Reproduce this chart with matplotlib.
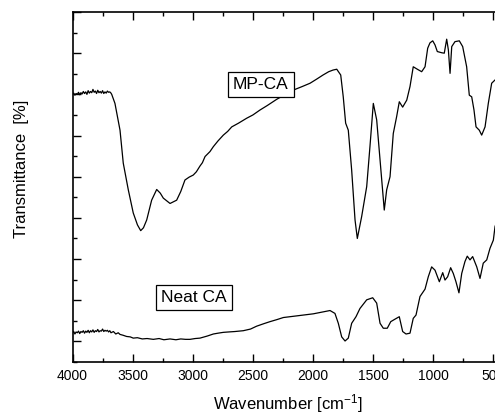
import matplotlib
matplotlib.use("Agg")
import matplotlib.pyplot as plt
from matplotlib.ticker import MultipleLocator

plt.rcParams['font.family'] = ['Liberation Sans', 'DejaVu Sans']
plt.rcParams['mathtext.fontset'] = 'custom'
plt.rcParams['mathtext.rm'] = 'Liberation Sans'
plt.rcParams['mathtext.it'] = 'Liberation Sans:italic'
plt.rcParams['mathtext.bf'] = 'Liberation Sans:bold'

# MP-CA spectrum (wavenumber, transmittance)
mpca_wn = [4000, 3990, 3980, 3970, 3960, 3950, 3940, 3930, 3920, 3910, 3900, 3890,
           3880, 3870, 3860, 3850, 3840, 3830, 3820, 3810, 3800, 3790, 3780, 3770,
           3760, 3750, 3740, 3730, 3720, 3710, 3700, 3690, 3680, 3674,
           3647, 3605, 3578, 3536, 3495, 3460, 3433, 3410, 3383, 3342, 3300, 3270,
           3245, 3189, 3134, 3100, 3065, 3030, 2996, 2970, 2940, 2920, 2898, 2857,
           2829, 2790, 2746, 2710, 2676, 2620, 2552, 2500, 2441, 2380, 2302, 2230,
           2150, 2090, 2025, 1970, 1917, 1870, 1834, 1803, 1770, 1749, 1729, 1707,
           1679, 1651, 1632, 1596, 1554, 1527, 1499, 1471, 1443, 1408, 1388, 1360,
           1333, 1305, 1283, 1255, 1221, 1194, 1167, 1133, 1097, 1069, 1047, 1028,
           1005, 986, 967, 930, 909, 889, 875, 861, 847, 820, 784, 756, 723, 701,
           681, 662, 645, 618, 598, 570, 543, 515, 487, 450]
mpca_t = [60.0, 60.3, 59.8, 60.2, 60.0, 60.5, 59.9, 60.4, 60.1, 60.7, 60.2, 60.6,
          60.0, 60.9, 60.3, 60.7, 60.4, 61.2, 60.5, 60.8, 60.2, 61.0, 60.4, 60.7,
          60.3, 60.9, 60.2, 60.6, 60.3, 60.8, 60.5, 60.6, 60.3, 60.0,
          57.8, 51.3, 43.3, 36.8, 31.2, 28.3, 26.9, 27.6, 29.5, 34.3, 36.9, 36.0,
          34.8, 33.5, 34.3, 36.4, 39.2, 39.9, 40.4, 41.2, 42.6, 43.4, 44.9, 46.1,
          47.3, 48.7, 50.1, 51.0, 52.1, 53.0, 54.2, 55.0, 56.2, 57.3, 58.8, 60.0,
          61.2, 61.9, 62.7, 63.7, 64.7, 65.5, 65.9, 66.1, 64.7, 59.4, 53.0, 51.3,
          41.6, 29.5, 25.0, 30.3, 37.6, 47.3, 57.8, 53.8, 44.1, 31.9, 36.8, 40.0,
          50.5, 54.6, 58.2, 56.9, 58.6, 61.9, 66.7, 66.1, 65.5, 66.7, 71.2, 72.5,
          73.0, 72.0, 70.4, 70.1, 70.0, 73.4, 70.8, 65.1, 71.6, 72.8, 73.0, 71.6,
          66.7, 59.8, 59.4, 56.2, 52.1, 51.3, 50.1, 52.1, 57.8, 62.7, 63.5, 64.0]

# Neat CA spectrum (wavenumber, transmittance)
neat_wn = [4000, 3990, 3980, 3970, 3960, 3950, 3940, 3930, 3920, 3910, 3900, 3890,
           3880, 3870, 3860, 3850, 3840, 3830, 3820, 3810, 3800, 3790, 3780, 3770,
           3760, 3750, 3740, 3730, 3720, 3710, 3700, 3690, 3680, 3660, 3640, 3620,
           3605, 3580, 3550, 3520, 3495, 3460, 3420, 3380, 3328, 3280, 3240, 3189,
           3140, 3100, 3060, 3023, 2980, 2940, 2880, 2829, 2790, 2746, 2700, 2650,
           2580, 2520, 2469, 2410, 2358, 2300, 2247, 2136, 1998, 1859, 1818, 1790,
           1762, 1734, 1707, 1679, 1643, 1610, 1554, 1504, 1471, 1443, 1416, 1383,
           1354, 1319, 1283, 1255, 1227, 1194, 1167, 1144, 1111, 1069, 1042, 1014,
           986, 950, 922, 903, 881, 856, 834, 812, 787, 764, 737, 718, 695, 673,
           639, 612, 585, 556, 529, 501, 487, 450]
neat_t = [2.0, 2.4, 1.8, 2.3, 2.1, 2.5, 1.9, 2.4, 2.2, 2.6, 2.0, 2.5,
          2.2, 2.7, 2.1, 2.6, 2.3, 2.8, 2.2, 2.6, 2.4, 2.9, 2.3, 2.6,
          2.5, 3.0, 2.4, 2.7, 2.5, 2.7, 2.3, 2.6, 2.1, 2.4, 1.8, 2.1,
          1.7, 1.5, 1.2, 1.1, 0.8, 0.9, 0.6, 0.7, 0.5, 0.7, 0.4, 0.6,
          0.4, 0.6, 0.5, 0.5, 0.7, 0.8, 1.3, 1.8, 2.0, 2.2, 2.3, 2.4,
          2.6, 3.0, 3.7, 4.3, 4.8, 5.3, 5.8, 6.2, 6.7, 7.5, 6.8, 4.4,
          1.1, 0.1, 0.8, 4.4, 6.0, 8.0, 10.1, 10.6, 9.3, 4.4, 3.2, 3.2,
          4.8, 5.4, 6.0, 2.4, 1.8, 2.0, 5.6, 6.4, 10.9, 12.7, 15.7, 18.1,
          17.3, 14.5, 16.7, 14.9, 15.7, 17.9, 16.5, 14.5, 11.8, 16.5, 19.4, 20.7, 19.8, 20.6,
          18.1, 15.3, 19.0, 19.8, 22.6, 24.6, 27.9, 31.0]

label_texts = ["MP-CA", "Neat CA"]
label_pos = [(2433, 62.4), (2988, 10.7)]

fig = plt.figure(figsize=(4.95, 4.15), dpi=100)
ax = fig.add_axes([72.5 / 495, 53 / 415, 433.0 / 495, 350 / 415])

ax.plot(mpca_wn, mpca_t, color='black', lw=0.9, zorder=2)
ax.plot(neat_wn, neat_t, color='black', lw=0.9, zorder=2)

ax.set_xlim(4000, 400)
ax.set_ylim(-5, 80)

ax.xaxis.set_major_locator(MultipleLocator(500))
ax.xaxis.set_minor_locator(MultipleLocator(250))
ax.yaxis.set_major_locator(MultipleLocator(10))
ax.yaxis.set_minor_locator(MultipleLocator(5))
ax.tick_params(which='both', direction='in', top=True, right=False, width=1)
ax.tick_params(which='major', length=5.5)
ax.tick_params(which='minor', length=3)
ax.tick_params(axis='x', labelsize=10, pad=5)
ax.tick_params(axis='y', labelleft=False)
ax.set_xticks([4000, 3500, 3000, 2500, 2000, 1500, 1000, 500])
ax.set_xticklabels(["4000", "3500", "3000", "2500", "2000", "1500", "1000", "500"])

for s in ['left', 'bottom', 'top']:
    ax.spines[s].set_linewidth(1.2)
ax.spines['right'].set_visible(False)

ax.set_xlabel("Wavenumber [cm$^{-1}$]", fontsize=12)
ax.xaxis.label.set_va('center')
ax.xaxis.set_label_coords((288 - 72.5) / 433.0, -0.118)
ax.set_ylabel("Transmittance  [%]", fontsize=12)
ax.yaxis.label.set_va('center')
ax.yaxis.set_label_coords((22 - 72.5) / 433.0, 0.551)

for txt, (xw, yt) in zip(label_texts, label_pos):
    ax.text(xw, yt, txt, fontsize=12.5, ha='center', va='center', zorder=5,
            bbox=dict(boxstyle='square,pad=0.3', fc='white', ec='black', lw=0.9))

fig.savefig("out.png", dpi=100)
